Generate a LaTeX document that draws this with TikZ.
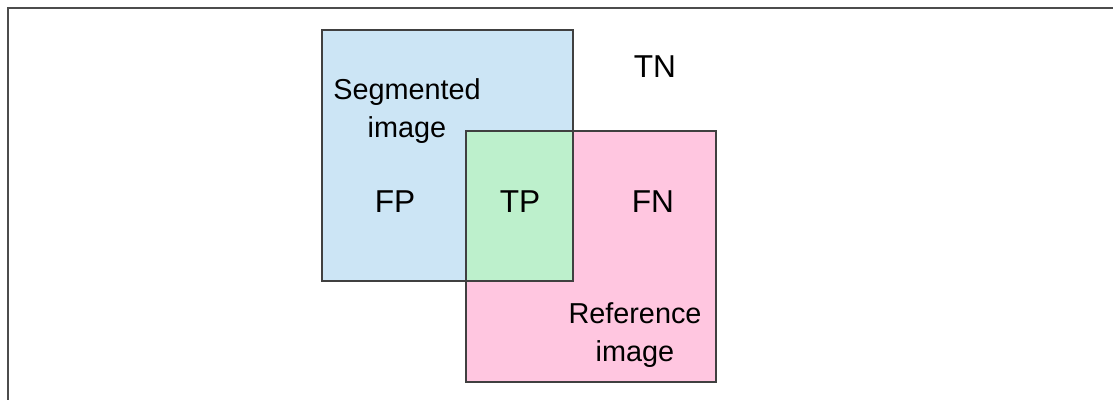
\documentclass[tikz,border=0pt]{standalone}
\usepackage{fontspec}
\setmainfont{Liberation Sans}
\usepackage{tikz}
\usetikzlibrary{positioning}
\definecolor{segblue}{HTML}{CCE5F5}
\definecolor{refpink}{HTML}{FFC6E0}
\definecolor{tpgreen}{HTML}{BDF0CC}
\definecolor{edgegray}{HTML}{404040}

\begin{document}
\begin{tikzpicture}[
    x=0.025cm, y=-0.025cm,
    region/.style={draw=edgegray, line width=0.8pt},
    lbl/.style={font=\fontsize{20.5}{27}\selectfont, align=center, inner sep=0pt},
    cell/.style={font=\fontsize{22.5}{27}\selectfont, inner sep=0pt},
    frameline/.style={draw=gray!60!black, line width=1.1pt}
]
    \useasboundingbox (0,0) rectangle (1113,400);
    % outer frame (top and left only)
    \draw[frameline] (8,400) -- (8,8) -- (1113,8);

    % regions
    \fill[segblue] (322,30) rectangle (573,281);
    \fill[refpink] (466,131) rectangle (716,382);
    \fill[tpgreen] (466,131) rectangle (573,281);
    \draw[region] (322,30) rectangle (573,281);
    \draw[region] (466,131) rectangle (716,382);

    % labels
    \node[lbl] (seg) at (407,111) {Segmented\\image};
    \node[cell] (tn) at (655,67) {TN};
    \node[cell] (fp) at (395,202) {FP};
    \node[cell] (tp) at (520,202) {TP};
    \node[cell] (fn) at (653,202) {FN};
    \node[lbl] (ref) at (635,335) {Reference\\image};
\end{tikzpicture}
\end{document}
